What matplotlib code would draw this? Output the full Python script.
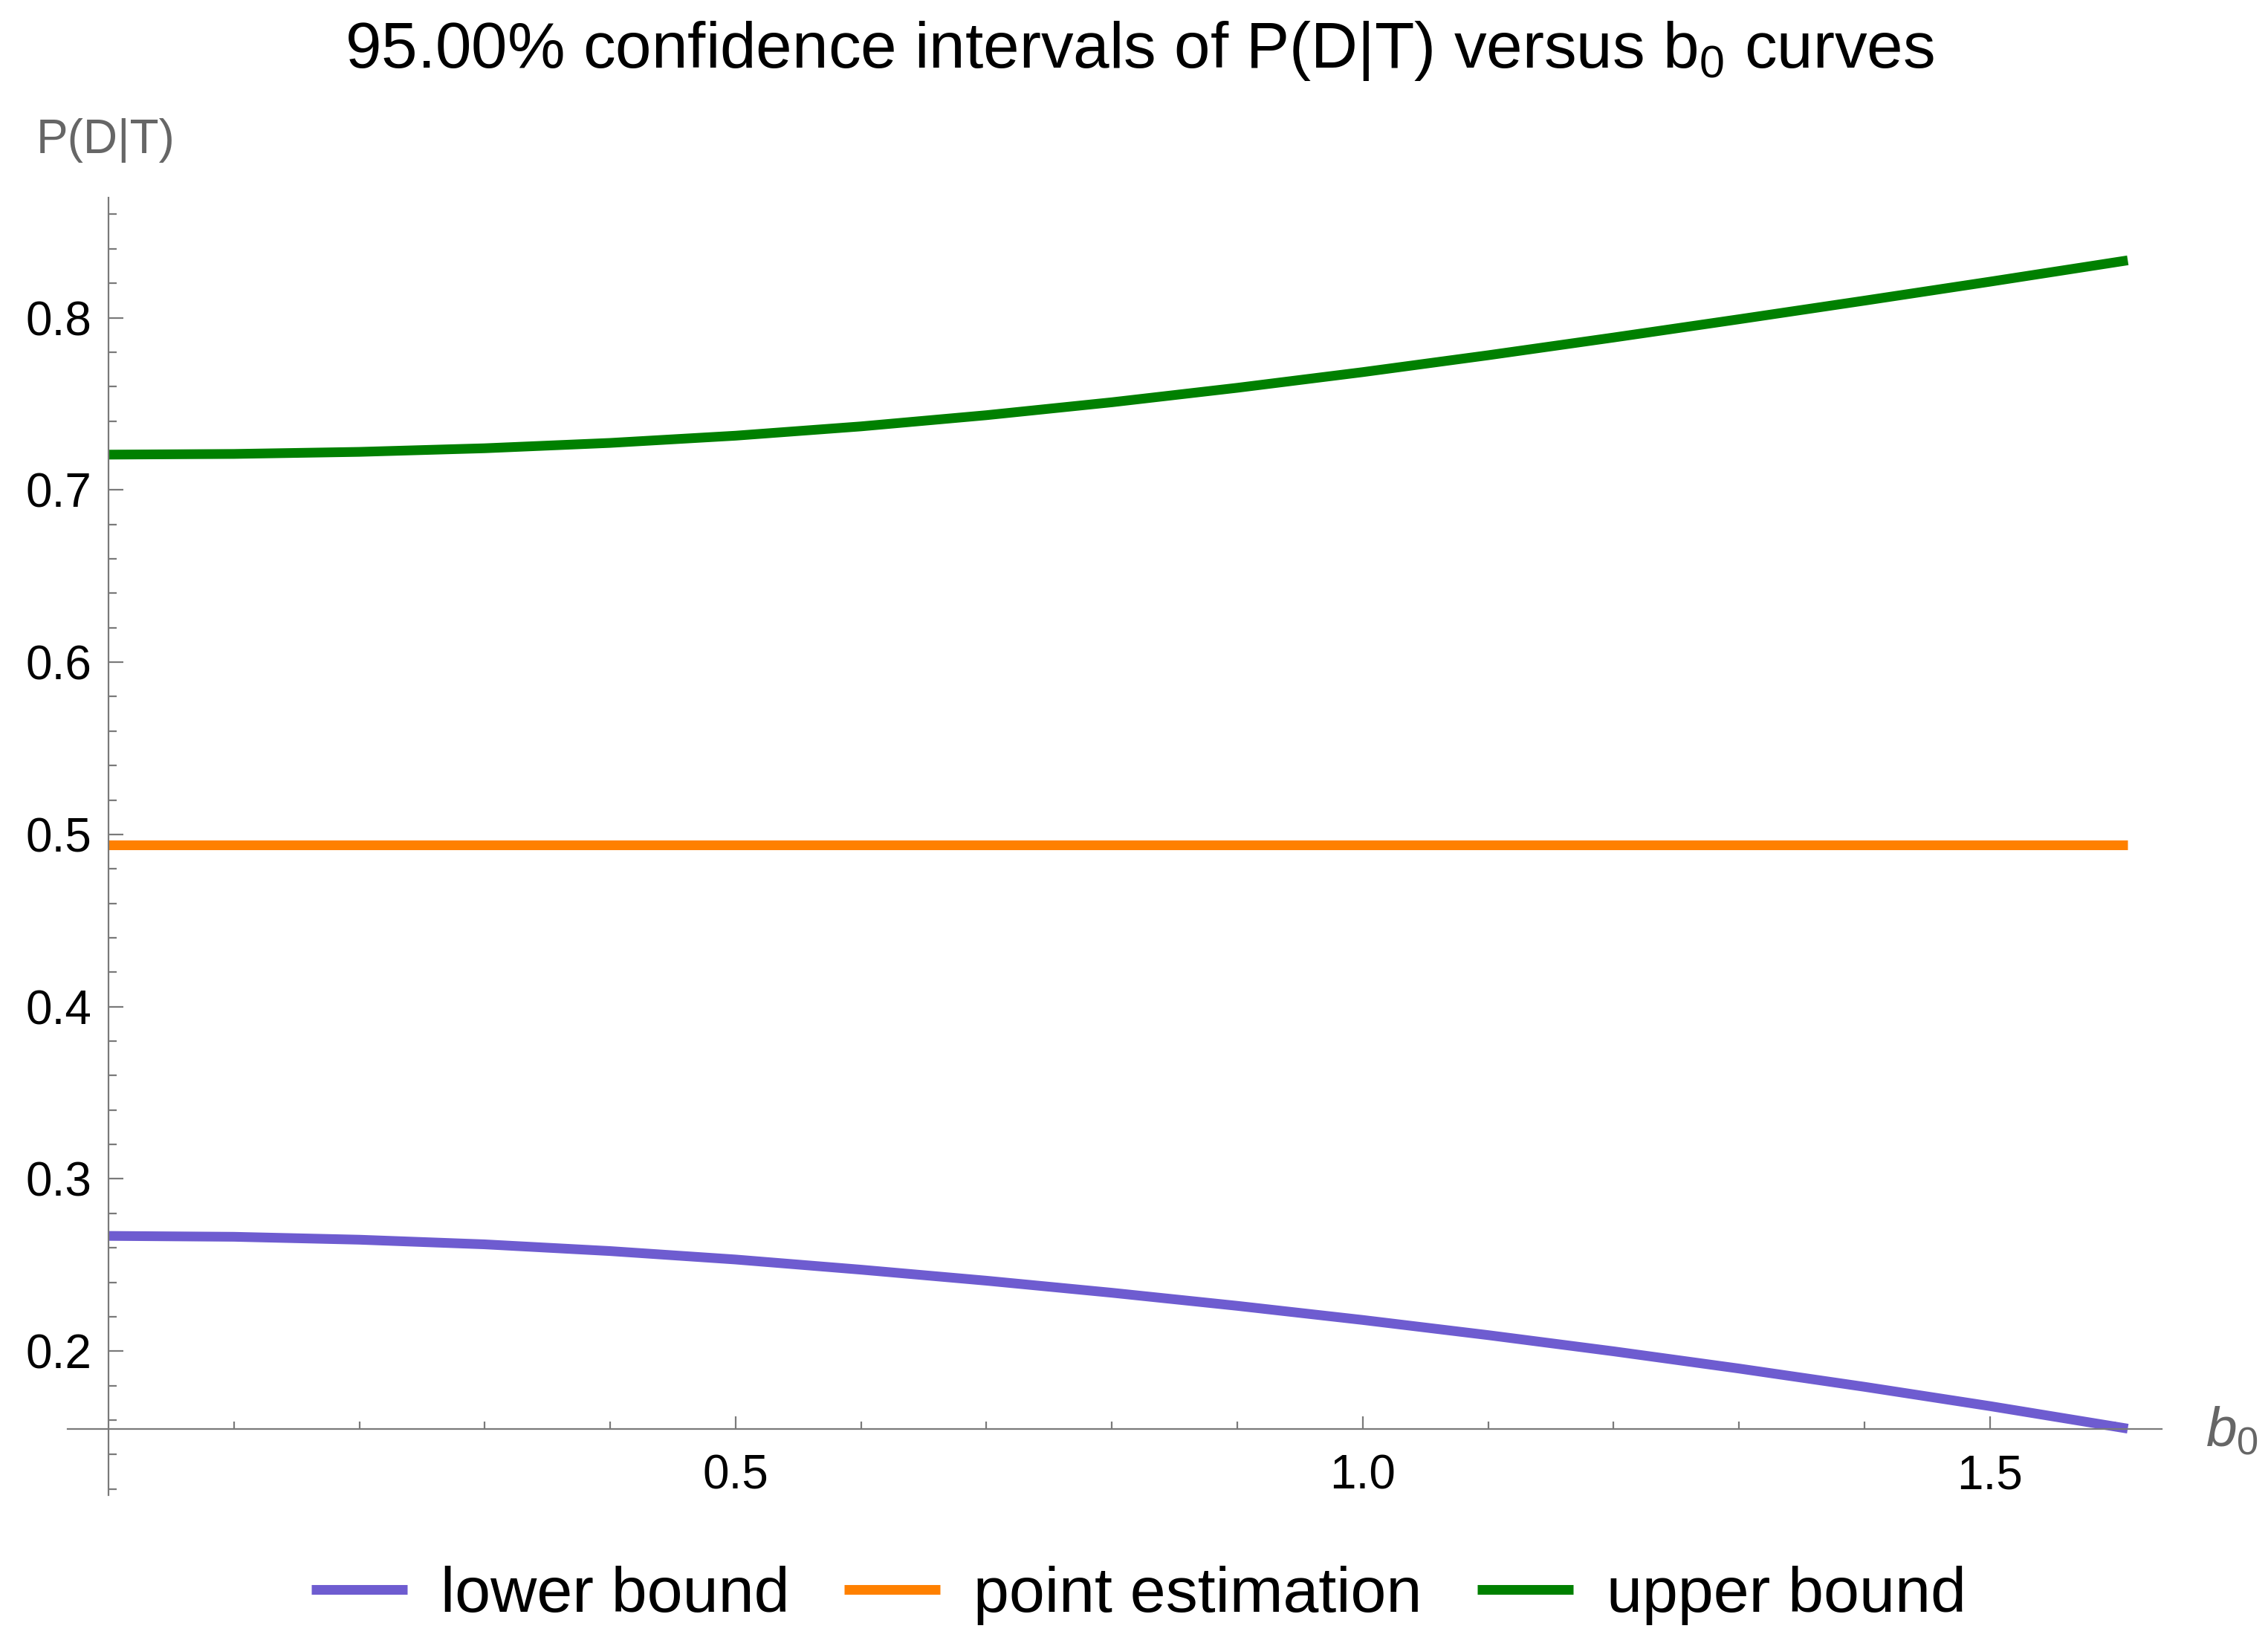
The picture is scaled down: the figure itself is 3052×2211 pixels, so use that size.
import numpy as np
import matplotlib
matplotlib.use('Agg')
import matplotlib.pyplot as plt
from matplotlib.ticker import FixedLocator

plt.rcParams['font.family'] = ['Liberation Sans', 'DejaVu Sans']
plt.rcParams['mathtext.fontset'] = 'custom'
plt.rcParams['mathtext.rm'] = 'Liberation Sans'
plt.rcParams['mathtext.it'] = 'Liberation Sans:italic'

# values
b0 = [0.0, 0.1, 0.2, 0.3, 0.4, 0.5, 0.6, 0.7, 0.8, 0.9, 1.0,
      1.1, 1.2, 1.3, 1.4, 1.5, 1.61]
lower = [0.2669, 0.2664, 0.2647, 0.2620, 0.2581, 0.2532, 0.2473, 0.2409,
         0.2339, 0.2263, 0.2181, 0.2093, 0.1999, 0.1899, 0.1793, 0.1681, 0.1550]
point = [0.4937] * len(b0)
upper = [0.7205, 0.7209, 0.7221, 0.7242, 0.7273, 0.7315, 0.7369, 0.7434,
         0.7509, 0.7593, 0.7684, 0.7782, 0.7885, 0.7991, 0.8099, 0.8209, 0.8333]

series = ['lower bound', 'point estimation', 'upper bound']
colors = ['#6E5CD0', '#FF8000', '#008000']

fig = plt.figure(figsize=(15.26, 11.055), dpi=200)
ax = fig.add_axes([0.0298, 0.0900, 0.9233, 0.7897])

for ys, name, c in zip([lower, point, upper], series, colors):
    ax.plot(b0, ys, color=c, lw=4.7, label=name, solid_capstyle='butt')

ax.set_xlim(-0.0326, 1.637)
ax.set_ylim(0.1164, 0.8697)

axis_gray = '#7a7a7a'
for s in ['top', 'right']:
    ax.spines[s].set_visible(False)
ax.spines['left'].set_position(('data', 0))
ax.spines['bottom'].set_position(('data', 0.1548))
for s in ['left', 'bottom']:
    ax.spines[s].set_color(axis_gray)
    ax.spines[s].set_linewidth(0.8)

ax.xaxis.set_major_locator(FixedLocator([0.5, 1.0, 1.5]))
ax.xaxis.set_minor_locator(FixedLocator([0.1, 0.2, 0.3, 0.4, 0.6, 0.7, 0.8, 0.9,
                                         1.1, 1.2, 1.3, 1.4, 1.6]))
ax.set_xticklabels(['0.5', '1.0', '1.5'])
yt = [0.2, 0.3, 0.4, 0.5, 0.6, 0.7, 0.8]
ax.yaxis.set_major_locator(FixedLocator(yt))
ymin = [round(0.12 + 0.02 * i, 2) for i in range(38)]
ax.yaxis.set_minor_locator(FixedLocator([v for v in ymin if round(v * 10) != v * 10]))
ax.set_yticklabels(['%.1f' % v for v in yt])

ax.tick_params(axis='both', which='both', direction='in', color=axis_gray,
               width=0.8, labelsize=23, labelcolor='black')
ax.tick_params(axis='y', which='major', length=7.2, pad=8)
ax.tick_params(axis='y', which='minor', length=4)
ax.tick_params(axis='x', which='major', length=6, pad=12)
ax.tick_params(axis='x', which='minor', length=3.6)

fig.text(0.5026, 0.969, r'95.00% confidence intervals of P(D|T) versus $\mathregular{b_0}$ curves',
         ha='center', va='center', fontsize=31.4)
fig.text(0.016, 0.9145, 'P(D|T)', ha='left', va='center', fontsize=23, color='#666666')
fig.text(0.9725, 0.1289, r'$b_0$', ha='left', va='center', fontsize=27, color='#666666')

fig.legend(loc='center', bbox_to_anchor=(0.502, 0.029), ncol=3, frameon=False,
           fontsize=31, handlelength=1.5, handletextpad=0.52, columnspacing=0.86)

fig.savefig('out.png', dpi=200)
